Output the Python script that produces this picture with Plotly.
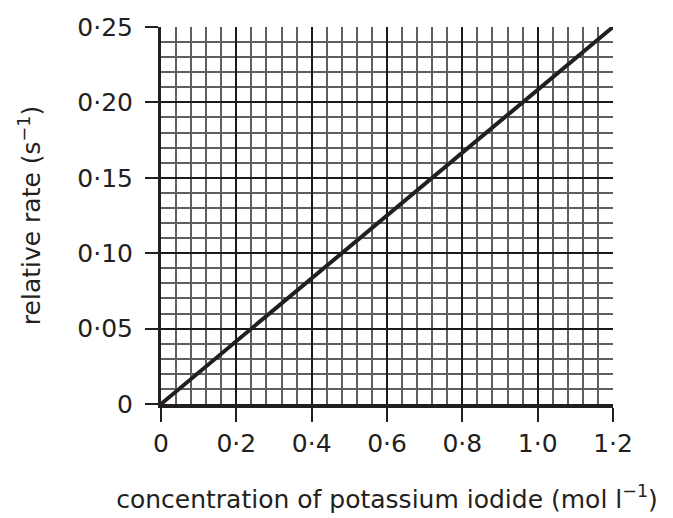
import plotly.graph_objects as go

# data
conc = [0.0, 1.2]
rate = [0.0, 0.25]

x_tickvals = [0, 0.2, 0.4, 0.6, 0.8, 1.0, 1.2]
x_ticktext = ["0", "0·2", "0·4", "0·6", "0·8", "1·0", "1·2"]
y_tickvals = [0, 0.05, 0.10, 0.15, 0.20, 0.25]
y_ticktext = ["0", "0·05", "0·10", "0·15", "0·20", "0·25"]

ink = "#231f20"
font = dict(family="DejaVu Sans", size=25, color=ink)

fig = go.Figure()
fig.add_trace(go.Scatter(x=conc, y=rate, mode="lines",
                         line=dict(color=ink, width=4), showlegend=False,
                         hoverinfo="skip"))

fig.update_layout(
    width=665, height=510,
    margin=dict(l=153, r=60, t=19, b=114, autoexpand=False),
    paper_bgcolor="white", plot_bgcolor="white",
    font=font,
    xaxis=dict(
        range=[0, 1.2], tickvals=x_tickvals, ticktext=x_ticktext,
        showgrid=True, gridcolor="#1a1a1a", gridwidth=2,
        minor=dict(dtick=0.04, tick0=0, showgrid=True, gridcolor="#5e5e5e", gridwidth=1.5),
        ticks="outside", ticklen=14, tickwidth=2, tickcolor=ink,
        showline=True, linecolor=ink, linewidth=4,
        zeroline=False, tickfont=font, automargin=False,
        ticklabelstandoff=0,
        title=dict(text="concentration of potassium iodide (mol l<sup>−1</sup>)",
                   standoff=34, font=font),
        fixedrange=True,
    ),
    yaxis=dict(
        range=[0, 0.25], tickvals=y_tickvals, ticktext=y_ticktext,
        showgrid=True, gridcolor="#1a1a1a", gridwidth=2,
        minor=dict(dtick=0.01, tick0=0, showgrid=True, gridcolor="#5e5e5e", gridwidth=1.5),
        ticks="outside", ticklen=13, tickwidth=2, tickcolor=ink,
        showline=True, linecolor=ink, linewidth=3,
        zeroline=False, tickfont=font, automargin=False,
        ticklabelstandoff=7,
        title=dict(text="relative rate (s<sup>−1</sup>)", standoff=30, font=font),
        fixedrange=True,
    ),
)

fig.write_html("out.html")
